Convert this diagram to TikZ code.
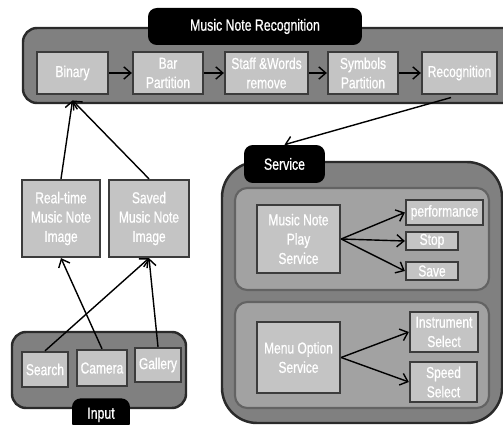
\documentclass[tikz,border=0pt]{standalone}
\usepackage{fontspec}
\setmainfont[FakeStretch=0.76, FakeBold=0.8]{Liberation Sans}
\definecolor{groupgray}{RGB}{128, 128, 128}
\definecolor{panelgray}{RGB}{162, 162, 162}
\definecolor{boxgray}{RGB}{196, 196, 196}
\definecolor{edgegray}{RGB}{60, 60, 60}
\usetikzlibrary{arrows.meta, positioning}

\begin{document}
\begin{tikzpicture}[x=0.02cm, y=-0.02cm,
    groupbox/.style={draw=edgegray!70!black, fill=groupgray, line width=1.4pt, rounded corners=8pt},
    panelbox/.style={draw=edgegray!80, fill=panelgray, line width=1.2pt, rounded corners=7pt},
    stepbox/.style={draw=edgegray, fill=boxgray, line width=1.3pt, text=white, align=center,
      inner sep=1pt, font=\fontsize{9}{11}\selectfont},
    tabbox/.style={fill=black, rounded corners=5pt, text=white, align=center, inner sep=1pt,
      font=\fontsize{9.2}{10}\selectfont},
    flow/.style={-{Straight Barb[length=4pt, width=7pt]}, line width=0.8pt}]
  \useasboundingbox (0,0) rectangle (503,425);

  % Music note recognition group
  \draw[groupbox] (23,28) rectangle (520,103);
  \node[tabbox, minimum width=4.28cm, minimum height=0.74cm] (recTitle) at (255,26.5) {Music Note Recognition};
  \node[stepbox, minimum width=1.42cm, minimum height=0.84cm] (binary) at (72.5,73) {Binary};
  \node[stepbox, minimum width=1.40cm, minimum height=0.84cm] (bar) at (168,73) {Bar\\Partition};
  \node[stepbox, minimum width=1.66cm, minimum height=0.84cm] (staff) at (266.5,73) {Staff \&Words\\remove};
  \node[stepbox, minimum width=1.40cm, minimum height=0.84cm] (symbols) at (363,73) {Symbols\\Partition};
  \node[stepbox, minimum width=1.50cm, minimum height=0.84cm] (recog) at (459.5,73) {Recognition};

  \draw[flow] (binary) -- (bar);
  \draw[flow] (bar) -- (staff);
  \draw[flow] (staff) -- (symbols);
  \draw[flow] (symbols) -- (recog);

  % Images
  \node[stepbox, minimum width=1.56cm, minimum height=1.54cm] (realtime) at (61,218.5) {Real-time\\Music Note\\Image};
  \node[stepbox, minimum width=1.60cm, minimum height=1.54cm] (saved) at (149,218.5) {Saved\\Music Note\\Image};

  % Input group
  \draw[groupbox] (12,332) rectangle (186,408);
  \node[stepbox, minimum width=0.92cm, minimum height=0.70cm] (search) at (45,369.5) {Search};
  \node[stepbox, minimum width=1.00cm, minimum height=0.72cm] (camera) at (102,368) {Camera};
  \node[stepbox, minimum width=0.92cm, minimum height=0.68cm] (gallery) at (158,365) {Gallery};
  \node[tabbox, minimum width=1.16cm, minimum height=0.66cm, anchor=north] (inTitle) at (101,398) {Input};

  % Service group
  \draw[groupbox, rounded corners=20pt] (222,162) rectangle (502,423);
  \node[tabbox, minimum width=1.62cm, minimum height=0.76cm] (svcTitle) at (284.5,164) {Service};
  \draw[panelbox] (235,188) rectangle (489,290);
  \draw[panelbox] (235,302) rectangle (489,408);
  \node[stepbox, minimum width=1.66cm, minimum height=1.36cm] (play) at (298.5,239) {Music Note\\Play\\Service};
  \node[stepbox, minimum width=1.54cm, minimum height=0.50cm] (perform) at (444.5,212.5) {performance};
  \node[stepbox, minimum width=1.04cm, minimum height=0.36cm] (stop) at (432,241) {Stop};
  \node[stepbox, minimum width=1.04cm, minimum height=0.36cm] (save) at (432,271) {Save};
  \node[stepbox, minimum width=1.66cm, minimum height=1.42cm] (menu) at (298.5,357.5) {Menu Option\\Service};
  \node[stepbox, minimum width=1.36cm, minimum height=0.80cm] (instrument) at (444,332) {Instrument\\Select};
  \node[stepbox, minimum width=1.34cm, minimum height=0.80cm] (speed) at (443.5,382) {Speed\\Select};

  % Connections
  \draw[flow] (realtime.north) -- ([yshift=-3pt]binary.south);
  \draw[flow] (saved.north) -- ([yshift=-3pt]binary.south);
  \draw[flow] (search.north) -- (saved.south);
  \draw[flow] (camera.north) -- (realtime.south);
  \draw[flow] (gallery.north) -- (saved.south);
  \draw[flow, shorten <=5pt] (recog.south) -- (svcTitle.north);
  \draw[flow] (play.east) -- (perform.west);
  \draw[flow] (play.east) -- (stop.west);
  \draw[flow] (play.east) -- (save.west);
  \draw[flow] (menu.east) -- (instrument.west);
  \draw[flow] (menu.east) -- (speed.west);
\end{tikzpicture}
\end{document}
